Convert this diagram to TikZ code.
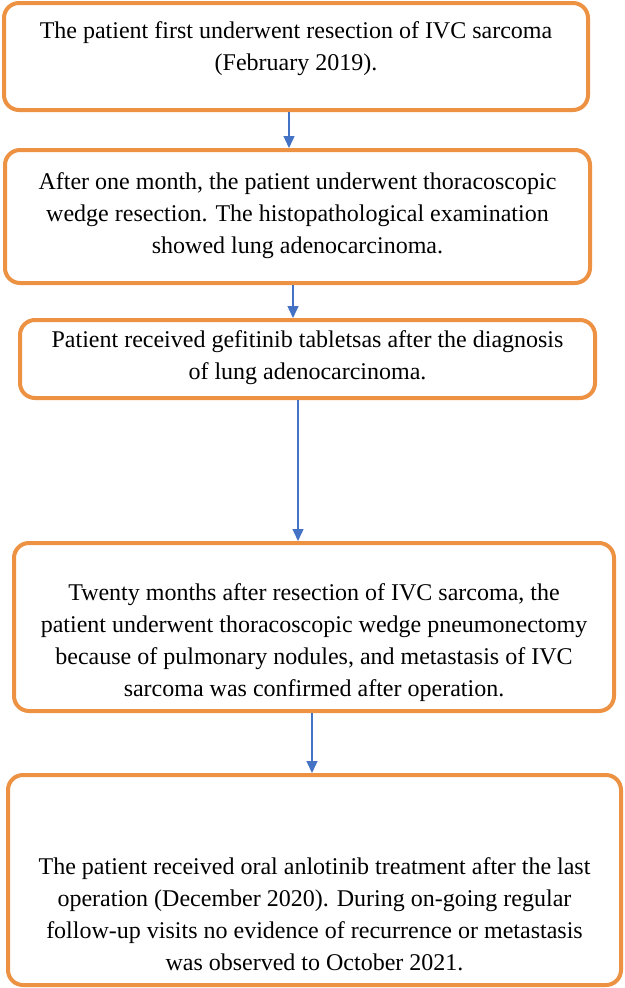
\documentclass[tikz,border=0pt]{standalone}
\usepackage{fontspec}
\setmainfont{Liberation Serif}
\usepackage{tikz}
\usetikzlibrary{arrows.meta}
\definecolor{boxorange}{RGB}{237,145,66}
\definecolor{arrowblue}{RGB}{68,114,196}
\tikzset{
x=1pt, y=-1pt, % one unit is one pixel of the figure, y runs downwards
stepbox/.style={draw=boxorange, line width=4pt, rounded corners=15pt, fill=white}, % the orange frames
steptext/.style={align=center, inner sep=0pt, font=\fontsize{24}{32}\selectfont}, % the text in a frame
flow/.style={-{Triangle[length=12pt,width=11pt]}, color=arrowblue, line width=1.4pt}, % the blue arrows
}

\begin{document}
\begin{tikzpicture}
		\useasboundingbox (0,0) rectangle (624,988);

		\node[stepbox, minimum width=584, minimum height=107] (s1) at (296,56.5) {};
		\node[stepbox, minimum width=585, minimum height=133] (s2) at (297.5,216.5) {};
		\node[stepbox, minimum width=575, minimum height=78] (s3) at (307.5,359) {};
		\node[stepbox, minimum width=600, minimum height=168] (s4) at (314,627) {};
		\node[stepbox, minimum width=613, minimum height=210] (s5) at (314.5,880) {};

		\node[steptext] (t1) at (296,49) {The patient first underwent resection of IVC sarcoma\\(February 2019).};
		\node[steptext] (t2) at (297.5,216) {After one month, the patient underwent thoracoscopic\\wedge resection. The histopathological examination\\showed lung adenocarcinoma.};
		\node[steptext] (t3) at (307.5,357.5) {Patient received gefitinib tabletsas after the diagnosis\\of lung adenocarcinoma.};
		\node[steptext] (t4) at (314,642.5) {Twenty months after resection of IVC sarcoma, the\\patient underwent thoracoscopic wedge pneumonectomy\\because of pulmonary nodules, and metastasis of IVC\\sarcoma was confirmed after operation.};
		\node[steptext] (t5) at (314.5,914.5) {The patient received oral anlotinib treatment after the last\\operation (December 2020). During on-going regular\\follow-up visits no evidence of recurrence or metastasis\\was observed to October 2021.};

		\draw ([xshift=-7]s1.south) edge[flow] ([xshift=-7]s1.south |- s2.north)
			  ([xshift=-4.5]s2.south) edge[flow] ([xshift=-4.5]s2.south |- s3.north)
			  ([xshift=-9.5]s3.south) edge[flow] ([xshift=-9.5]s3.south |- s4.north)
			  ([xshift=-2]s4.south) edge[flow] ([xshift=-2]s4.south |- s5.north);
	\end{tikzpicture}
\end{document}
